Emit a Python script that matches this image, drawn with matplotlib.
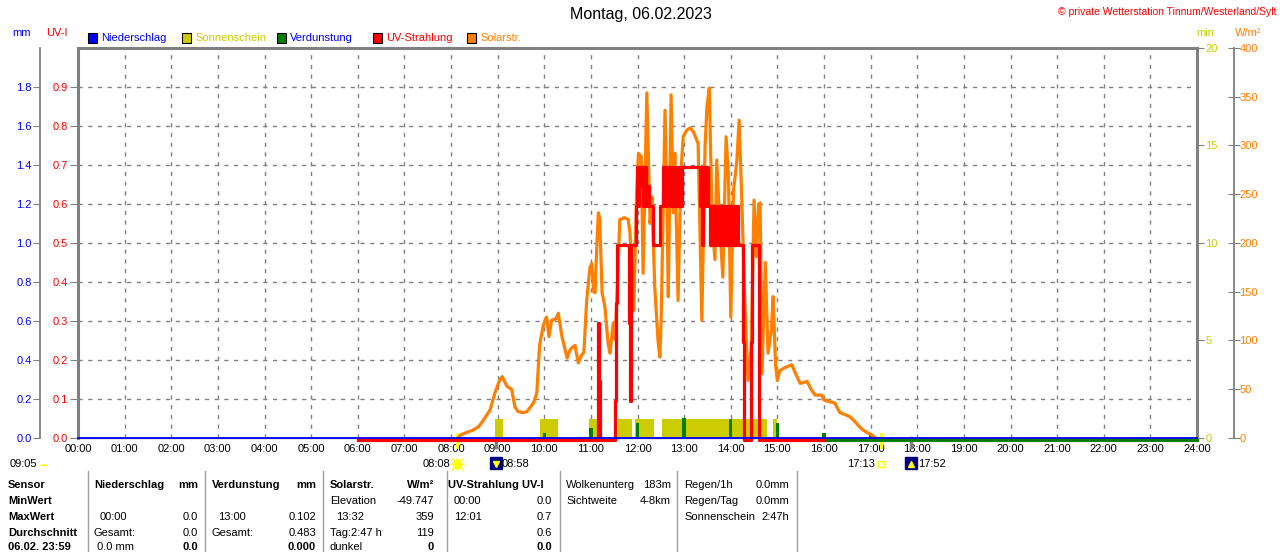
import numpy as np
import matplotlib
matplotlib.use("Agg")
import matplotlib.pyplot as plt
from matplotlib import transforms
from matplotlib.lines import Line2D

plt.rcParams['font.family'] = ['Liberation Sans', 'DejaVu Sans']

# -------------------------------
# Data
# -------------------------------
hours = list(range(0, 25))
hour_labels = [f"{h:02d}:00" for h in hours]

# Niederschlag (mm) - nothing all day
rain_t = [0.0, 24.0]
rain_mm = [0.0, 0.0]

# Sonnenschein (min per interval)
sun_start = [8.94, 9.91, 10.96, 11.58, 11.95, 12.53, 14.91]
sun_end = [9.12, 10.30, 11.13, 11.88, 12.36, 14.78, 15.00]
sun_min = [1, 1, 1, 1, 1, 1, 1]

# Verdunstung (mm per hour)
evap_t = [10, 11, 12, 13, 14, 15, 16, 17]
evap_mm = [0.025, 0.05, 0.077, 0.102, 0.1, 0.077, 0.026, 0.026]
evap_zero_t = [16.0, 24.0]
evap_zero_mm = [0.0, 0.0]

# UV-Strahlung (UV-I)
uv_t = [6.0, 11.15, 11.17, 11.20, 11.52, 11.54, 11.56, 11.82, 11.84, 11.86,
        11.96, 11.98, 12.00, 12.03, 12.06, 12.09, 12.12, 12.15, 12.18, 12.21,
        12.24, 12.33, 12.48, 12.55, 12.58, 12.60, 12.62, 12.64, 12.66, 12.68,
        12.70, 12.72, 12.74, 12.76, 12.78, 12.80, 12.82, 12.84, 12.86, 12.88,
        12.90, 12.92, 12.95, 13.34, 13.36, 13.38, 13.40, 13.42, 13.45, 13.48,
        13.50, 13.52, 13.55, 13.60, 13.62, 13.65, 13.68, 13.72, 13.75, 13.80,
        13.83, 13.87, 13.89, 13.92, 13.94, 13.96, 13.98, 14.00, 14.02, 14.04,
        14.06, 14.10, 14.12, 14.14, 14.16, 14.27, 14.29, 14.44, 14.46, 14.60,
        16.0]
uv_i = [0.0, 0.3, 0.15, 0.0, 0.1, 0.35, 0.5, 0.3, 0.1, 0.5,
        0.6, 0.7, 0.6, 0.7, 0.65, 0.7, 0.6, 0.7, 0.6, 0.65,
        0.6, 0.5, 0.6, 0.7, 0.6, 0.7, 0.6, 0.7, 0.65, 0.7,
        0.6, 0.7, 0.6, 0.7, 0.6, 0.7, 0.6, 0.65, 0.7, 0.6,
        0.7, 0.6, 0.7, 0.6, 0.7, 0.5, 0.7, 0.6, 0.7, 0.6,
        0.7, 0.6, 0.5, 0.6, 0.5, 0.6, 0.5, 0.6, 0.5, 0.6,
        0.5, 0.6, 0.5, 0.6, 0.5, 0.6, 0.5, 0.6, 0.5, 0.6,
        0.5, 0.6, 0.5, 0.6, 0.5, 0.25, 0.0, 0.25, 0.5, 0.0,
        0.0]

# Solarstrahlung (W/m2)
solar_t = [8.15, 8.20, 8.35, 8.47, 8.60, 8.69, 8.84, 8.94, 9.05, 9.10,
           9.20, 9.30, 9.37, 9.44, 9.55, 9.63, 9.77, 9.84, 9.90, 9.98,
           10.05, 10.10, 10.16, 10.25, 10.30, 10.38, 10.45, 10.49, 10.55, 10.60,
           10.66, 10.73, 10.80, 10.85, 10.91, 10.98, 11.02, 11.06, 11.09, 11.13,
           11.16, 11.19, 11.24, 11.30, 11.37, 11.41, 11.48, 11.52, 11.58, 11.62,
           11.72, 11.80, 11.84, 11.88, 11.92, 11.98, 12.02, 12.08, 12.12, 12.20,
           12.27, 12.31, 12.37, 12.44, 12.48, 12.51, 12.59, 12.63, 12.66, 12.72,
           12.77, 12.80, 12.87, 12.93, 12.98, 13.06, 13.13, 13.20, 13.30, 13.38,
           13.45, 13.49, 13.54, 13.60, 13.66, 13.70, 13.77, 13.83, 13.90, 13.95,
           14.00, 14.06, 14.13, 14.18, 14.23, 14.31, 14.37, 14.44, 14.50, 14.55,
           14.60, 14.63, 14.67, 14.74, 14.80, 14.87, 14.91, 14.96, 15.00, 15.05,
           15.15, 15.31, 15.40, 15.49, 15.64, 15.72, 15.81, 15.95, 16.00, 16.13,
           16.23, 16.34, 16.45, 16.55, 16.66, 16.75, 16.84, 16.95, 17.03, 17.10]
solar_w = [0, 3, 6, 8, 12, 18, 29, 46, 60, 63,
           53, 50, 32, 27, 26, 27, 36, 46, 95, 116,
           124, 104, 121, 122, 128, 104, 90, 82, 90, 93,
           95, 77, 85, 88, 141, 175, 179, 150, 149, 200,
           231, 225, 149, 135, 97, 87, 118, 101, 170, 224,
           226, 224, 210, 162, 131, 250, 292, 289, 169, 354,
           220, 247, 155, 100, 83, 128, 336, 250, 145, 352,
           231, 292, 141, 272, 309, 316, 318, 314, 302, 121,
           300, 340, 359, 224, 183, 285, 213, 165, 309, 270,
           124, 254, 284, 326, 254, 128, 59, 93, 244, 186,
           240, 241, 66, 180, 87, 110, 145, 75, 59, 69,
           72, 75, 65, 56, 58, 50, 44, 44, 39, 37,
           36, 26, 24, 22, 17, 12, 8, 5, 3, 0]

# -------------------------------
# Colours
# -------------------------------
C_RAIN = '#0000ff'
C_SUN = '#cccc00'
C_EVAP = '#008000'
C_UV = '#ff0000'
C_SOLAR = '#ff8000'
C_GRID = '#808080'

W, H = 1280, 552
def fx(x):
    return x / W
def fy(y):
    return 1 - y / H

fig = plt.figure(figsize=(12.8, 5.52), dpi=100)
L, R, T, B = 78, 1197, 48, 438
ax = fig.add_axes([fx(L), fy(B), (R - L) / W, (B - T) / H])

# base axes: UV scale, grid, hour ticks
ax.set_xlim(0, 24)
ax.set_ylim(0, 1.0)
ax.set_xticks(hours)
ax.set_xticklabels(hour_labels, fontsize=8)
ax.tick_params(axis='x', length=0, pad=4)
uv_ticks = [0.0, 0.1, 0.2, 0.3, 0.4, 0.5, 0.6, 0.7, 0.8, 0.9]
ax.set_yticks(uv_ticks)
ax.set_yticklabels([f"{v:.1f}" for v in uv_ticks])
ax.tick_params(axis='y', length=6, color=C_GRID, labelcolor=C_UV, labelsize=8, pad=1)
ax.grid(True, color=C_GRID, linestyle=(0, (3, 4)), linewidth=1)
for s in ['left', 'top', 'right']:
    ax.spines[s].set_color(C_GRID)
    ax.spines[s].set_linewidth(2.2)
ax.spines['bottom'].set_color(C_GRID)
ax.spines['bottom'].set_linewidth(1)

def twin(z):
    a = ax.twinx()
    a.patch.set_visible(False)
    for s in a.spines.values():
        s.set_visible(False)
    a.set_zorder(z)
    return a

# Sonnenschein axis (right spine)
ax_min = twin(1)
ax_min.set_ylim(0, 20)
ax_min.set_yticks([0, 5, 10, 15, 20])
ax_min.tick_params(axis='y', length=5, color=C_GRID, labelcolor=C_SUN, labelsize=8, pad=1)

# mm axis (separate spine on the left)
ax_mm = twin(2)
ax_mm.set_ylim(0, 2.0)
ax_mm.yaxis.set_ticks_position('left')
ax_mm.spines['left'].set_visible(True)
ax_mm.spines['left'].set_position(('axes', -0.034))
ax_mm.spines['left'].set_color(C_GRID)
ax_mm.spines['left'].set_linewidth(1.3)
mm_ticks = [0.0, 0.2, 0.4, 0.6, 0.8, 1.0, 1.2, 1.4, 1.6, 1.8]
ax_mm.set_yticks(mm_ticks)
ax_mm.set_yticklabels([f"{v:.1f}" for v in mm_ticks])
ax_mm.tick_params(axis='y', length=5, color=C_GRID, labelcolor=C_RAIN, labelsize=8, pad=1)

# W/m2 axis (separate spine on the right)
ax_sol = twin(3)
ax_sol.set_ylim(0, 400)
ax_sol.spines['right'].set_visible(True)
ax_sol.spines['right'].set_position(('axes', 1.033))
ax_sol.spines['right'].set_color(C_GRID)
ax_sol.spines['right'].set_linewidth(1.3)
ax_sol.set_yticks(list(range(0, 401, 50)))
ax_sol.tick_params(axis='y', direction='inout', length=8, color=C_GRID,
                   labelcolor=C_SOLAR, labelsize=8, pad=0)

# UV line on top
ax_uv = twin(4)
ax_uv.set_ylim(0, 1.0)
ax_uv.set_yticks([])

# -------------------------------
# Series
# -------------------------------
ax_min.bar(sun_start, sun_min, width=np.subtract(sun_end, sun_start), align='edge',
           color=C_SUN, linewidth=0)
ax_mm.bar(evap_t, evap_mm, width=0.07, color=C_EVAP, linewidth=0)

down_mm = transforms.offset_copy(ax_mm.transData, fig=fig, y=-2, units='dots')
ax_mm.plot(evap_zero_t, evap_zero_mm, color=C_EVAP, lw=2.2, transform=down_mm, clip_on=False)

ax_sol.plot(solar_t, solar_w, color=C_SOLAR, lw=2.3)

down_uv = transforms.offset_copy(ax_uv.transData, fig=fig, y=-2, units='dots')
ax_uv.step(uv_t, uv_i, where='post', color=C_UV, lw=2.3, transform=down_uv, clip_on=False)
# rain line sits on top of everything at zero
up_uv = transforms.offset_copy(ax_uv.transData, fig=fig, y=0.5, units='dots')
ax_uv.plot(rain_t, rain_mm, color=C_RAIN, lw=1.3, transform=up_uv, clip_on=False, zorder=5)

# -------------------------------
# Texts around the plot
# -------------------------------
fig.text(fx(641), fy(15), "Montag, 06.02.2023", fontsize=11.5, ha='center', va='center')
fig.text(fx(1277), fy(12), "© private Wetterstation Tinnum/Westerland/Sylt", fontsize=7.5,
         color=C_UV, ha='right', va='center')
fig.text(fx(22), fy(33), "mm", fontsize=8, color=C_RAIN, ha='center', va='center')
fig.text(fx(57), fy(33), "UV-I", fontsize=8, color=C_UV, ha='center', va='center')
fig.text(fx(1205), fy(33), "min", fontsize=8, color=C_SUN, ha='center', va='center')
fig.text(fx(1248), fy(33), "W/m²", fontsize=8, color=C_SOLAR, ha='center', va='center')

legend_items = [("Niederschlag", C_RAIN, C_RAIN, 88), ("Sonnenschein", C_SUN, C_SUN, 182),
                ("Verdunstung", C_EVAP, C_RAIN, 277), ("UV-Strahlung", C_UV, C_UV, 373),
                ("Solarstr.", C_SOLAR, C_SOLAR, 467)]
for name, col, tcol, x0 in legend_items:
    fig.patches.append(plt.Rectangle((fx(x0), fy(43)), 9 / W, 10 / H, transform=fig.transFigure,
                                     facecolor=col, edgecolor='black', linewidth=0.8))
    fig.text(fx(x0 + 13), fy(38), name, fontsize=8, color=tcol, ha='left', va='center')

# sunrise / sunset markers under the time axis
bt = transforms.blended_transform_factory(ax.transData, fig.transFigure)
def hm(s):
    h, m = s.split(':')
    return int(h) + int(m) / 60

sunrise, sunset = "08:08", "17:13"
dawn, dusk = "08:58", "17:52"
for t in [sunrise, sunset]:
    ax.plot([hm(t), hm(t)], [fy(434), fy(447)], transform=bt, color='#ffff00', lw=2, clip_on=False)
for t in [dawn, dusk]:
    ax.plot([hm(t), hm(t)], [fy(438), fy(447)], transform=bt, color=C_GRID, lw=2.5, clip_on=False)

ax.plot([hm(sunrise)], [fy(464)], transform=bt, marker='o', ms=6, color='#ffff00', clip_on=False)
ax.plot([hm(sunrise)], [fy(464)], transform=bt, marker='+', ms=10, mew=1, color='#ffff00', clip_on=False)
ax.plot([hm(sunrise)], [fy(464)], transform=bt, marker='x', ms=8, mew=1, color='#ffff00', clip_on=False)
fig.text(fx(450), fy(464), sunrise, fontsize=8, ha='right', va='center')
ax.plot([hm(sunset)], [fy(464)], transform=bt, marker='s', ms=5, mfc='none', mec='#ffff00', mew=1,
        clip_on=False)
fig.text(fx(875), fy(464), sunset, fontsize=8, ha='right', va='center')
for t, arrow, tx in [(dawn, 'v', 502), (dusk, '^', 918)]:
    ax.plot([hm(t)], [fy(463)], transform=bt, marker='s', ms=8, color='#000080', clip_on=False)
    ax.plot([hm(t)], [fy(464)], transform=bt, marker=arrow, ms=4, color='#ffff00', clip_on=False)
    fig.text(fx(tx), fy(464), t, fontsize=8, ha='left', va='center')

fig.text(fx(10), fy(464), "09:05", fontsize=8, ha='left', va='center')
fig.patches.append(matplotlib.patches.Wedge((fx(44), fy(466)), 4 / W, 0, 180, transform=fig.transFigure,
                                            facecolor='#ffff00', edgecolor='none'))

# -------------------------------
# Table below the chart
# -------------------------------
for x in [88, 205, 323, 447, 560, 677, 797]:
    fig.add_artist(Line2D([fx(x), fx(x)], [fy(471), fy(552)], color='#a0a0a0', lw=1))

rows_y = [485, 501, 517, 533, 547]
table = [
    (8, 'left', True, ["Sensor", "MinWert", "MaxWert", "Durchschnitt", "06.02. 23:59"]),
    (94, 'left', True, ["Niederschlag", "", "", "", ""]),
    (198, 'right', True, ["mm", "", "", "", "0.0"]),
    (100, 'left', False, ["", "", "00:00", "", ""]),
    (94, 'left', False, ["", "", "", "Gesamt:", " 0.0 mm"]),
    (198, 'right', False, ["", "", "0.0", "0.0", ""]),
    (212, 'left', True, ["Verdunstung", "", "", "", ""]),
    (316, 'right', True, ["mm", "", "", "", "0.000"]),
    (218, 'left', False, ["", "", "13:00", "", ""]),
    (212, 'left', False, ["", "", "", "Gesamt:", ""]),
    (316, 'right', False, ["", "", "0.102", "0.483", ""]),
    (330, 'left', True, ["Solarstr.", "", "", "", ""]),
    (434, 'right', True, ["W/m²", "", "", "", "0"]),
    (330, 'left', False, ["", "Elevation", "", "Tag:2:47 h", "dunkel"]),
    (336, 'left', False, ["", "", "13:32", "", ""]),
    (434, 'right', False, ["", "-49.747", "359", "119", ""]),
    (448, 'left', True, ["UV-Strahlung UV-I", "", "", "", ""]),
    (552, 'right', True, ["", "", "", "", "0.0"]),
    (454, 'left', False, ["", "00:00", "12:01", "", ""]),
    (552, 'right', False, ["", "0.0", "0.7", "0.6", ""]),
    (566, 'left', False, ["Wolkenunterg", "Sichtweite", "", "", ""]),
    (671, 'right', False, ["183m", "4-8km", "", "", ""]),
    (684, 'left', False, ["Regen/1h", "Regen/Tag", "Sonnenschein", "", ""]),
    (789, 'right', False, ["0.0mm", "0.0mm", "2:47h", "", ""]),
]
for x, ha, bold, texts in table:
    for y, s in zip(rows_y, texts):
        if s:
            fig.text(fx(x), fy(y), s, fontsize=8, ha=ha, va='center',
                     fontweight='bold' if bold else 'normal')

fig.savefig("out.png", dpi=100, facecolor='white')
